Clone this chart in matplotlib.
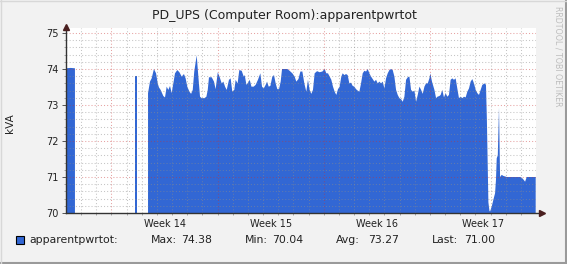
import numpy as np
import matplotlib
matplotlib.use("Agg")
import matplotlib.pyplot as plt
from matplotlib.patches import Rectangle
from matplotlib.lines import Line2D

# ---- data (time in days from left edge of graph, value in kVA) ----
nan = np.nan
days = [0.00, 0.30, 0.59, 0.60, 4.54, 4.55, 4.66, 4.67, 5.40,
        5.41, 5.54, 5.65, 5.80, 5.94, 6.05, 6.13, 6.24, 6.42, 6.53, 6.64, 6.75, 6.86, 6.97,
        7.08, 7.19, 7.34, 7.48, 7.63, 7.78, 7.89, 8.00, 8.14, 8.25, 8.36, 8.46, 8.62, 8.73,
        8.84, 8.95, 9.13, 9.26, 9.35, 9.43, 9.61, 9.76, 9.87, 10.01, 10.14, 10.27, 10.38,
        10.49, 10.60, 10.75, 10.86, 10.97, 11.10, 11.19, 11.32, 11.43, 11.59, 11.72,
        11.79, 11.90, 12.01, 12.12, 12.23, 12.38, 12.51, 12.66, 12.82, 12.93, 13.04, 13.17,
        13.26, 13.37, 13.48, 13.61, 13.72, 13.83, 13.94, 14.05, 14.16, 14.25, 14.42, 14.60,
        14.75, 14.93, 15.08, 15.19, 15.33, 15.46, 15.59, 15.72, 15.85, 15.96, 16.07, 16.18,
        16.29, 16.40, 16.56, 16.73, 16.91, 17.06, 17.17, 17.28, 17.39, 17.50, 17.61, 17.72,
        17.83, 17.94, 18.05, 18.16,
        18.25, 18.36, 18.47, 18.58, 18.69, 18.80, 18.91, 19.02, 19.13, 19.24, 19.35, 19.46,
        19.57, 19.68, 19.79, 19.90, 20.01, 20.12, 20.23, 20.34, 20.45, 20.56, 20.67, 20.78,
        20.89, 21.00, 21.11, 21.22, 21.33, 21.44, 21.55, 21.66, 21.77, 21.88, 21.99, 22.10,
        22.21, 22.32, 22.43, 22.54, 22.65, 22.76, 22.87, 22.98, 23.09, 23.20, 23.31, 23.42,
        23.53, 23.64, 23.75, 23.86, 23.97, 24.03, 24.14, 24.30, 24.41, 24.50, 24.63,
        24.71, 24.82, 24.93, 25.04, 25.15, 25.26, 25.37, 25.48, 25.59, 25.70, 25.81, 25.92,
        26.03, 26.14, 26.25, 26.36, 26.47, 26.58, 26.69, 26.80, 26.91, 27.02, 27.13, 27.24,
        27.35, 27.46, 27.62, 27.70,
        27.76, 27.86, 27.93, 27.97, 28.08, 28.19, 28.30, 28.36, 28.41, 28.48, 28.56, 28.63,
        28.74, 28.85, 29.07, 29.51, 29.95, 30.06, 30.17, 30.28, 30.39, 30.72, 30.98]
kva = [74.02, 74.03, 74.02, nan, nan, 73.80, 73.80, nan, nan,
       73.33, 73.65, 73.74, 74.00, 73.88, 73.60, 73.49, 73.42, 73.25, 73.21, 73.51, 73.42, 73.53, 73.33,
       73.60, 73.88, 73.97, 73.91, 73.79, 73.86, 73.74, 73.51, 73.37, 73.31, 73.42, 73.93, 74.38, 73.79,
       73.23, 73.19, 73.19, 73.23, 73.42, 73.77, 73.77, 73.65, 73.44, 73.91, 73.77, 73.60, 73.65,
       73.51, 73.42, 73.70, 73.74, 73.37, 73.42, 73.70, 73.60, 73.97, 73.95, 73.79,
       73.83, 73.56, 73.62, 73.70, 73.51, 73.51, 73.56, 73.70, 73.88, 73.51, 73.46, 73.56,
       73.65, 73.51, 73.53, 73.79, 73.83, 73.60, 73.44, 73.44, 73.65, 74.00, 74.00, 74.00,
       73.95, 73.88, 73.79, 73.65, 73.72, 73.93, 73.93, 73.60, 73.37, 73.70, 73.42, 73.31,
       73.42, 73.88, 73.94, 73.91, 73.93, 74.00, 73.88, 73.88, 73.79, 73.70, 73.51, 73.37,
       73.28, 73.44, 73.51, 73.79,
       73.88, 73.83, 73.86, 73.83, 73.60, 73.62, 73.53, 73.51, 73.44, 73.40, 73.37, 73.60,
       73.88, 73.95, 73.93, 74.00, 73.88, 73.79, 73.72, 73.65, 73.70, 73.60, 73.65, 73.60,
       73.65, 73.46, 73.74, 73.88, 73.97, 74.00, 73.97, 73.79, 73.42, 73.28, 73.19, 73.16,
       73.09, 73.23, 73.70, 73.77, 73.79, 73.42, 73.37, 73.40, 73.09, 73.28, 73.51, 73.42,
       73.31, 73.51, 73.60, 73.60, 73.74, 73.88, 73.65, 73.42, 73.19, 73.23, 73.25,
       73.28, 73.42, 73.21, 73.33, 73.23, 73.28, 73.70, 73.74, 73.70, 73.74, 73.46, 73.19,
       73.23, 73.19, 73.23, 73.21, 73.37, 73.46, 73.65, 73.72, 73.60, 73.42, 73.33, 73.28,
       73.42, 73.56, 73.60, 73.56,
       72.60, 70.30, 70.06, 70.04, 70.18, 70.37, 70.55, 70.92, 71.52, 71.60, 72.93, 71.00,
       71.06, 71.03, 71.00, 71.00, 71.00, 70.98, 70.93, 70.87, 71.00, 71.00, 71.00]

week_pos = [6.5, 13.5, 20.5, 27.5]
week_labels = ["Week 14", "Week 15", "Week 16", "Week 17"]
y_ticks = [70, 71, 72, 73, 74, 75]
legend_stats = [("Max:", "74.38"), ("Min:", "70.04"), ("Avg:", "73.27"), ("Last:", "71.00")]

W, H = 567, 264
BG = "#f2f2f2"
BLUE = "#3267d4"

fig = plt.figure(figsize=(W / 100, H / 100), dpi=100, facecolor=BG)

def fx(x):
    return x / W

def fy(y):
    return 1 - y / H

L, R, T, B = 66, 536, 28, 213
ax = fig.add_axes([fx(L), fy(B), (R - L) / W, (B - T) / H])
ax.set_facecolor("white")
ax.set_xlim(0, 31)
ax.set_ylim(70, 75 + 5 / 36)

ax.fill_between(days, kva, 70, color=BLUE, lw=0, zorder=1)

# grid
dots = (0, (1, 2))
for d in range(1, 31):
    if d % 7 == 3:
        continue
    ax.axvline(d, color="#8c8c8c", alpha=0.5, lw=0.75, ls=dots, zorder=2)
for yv in np.arange(70.2, 75.01, 0.2):
    if abs(yv - round(yv)) < 1e-6:
        continue
    ax.axhline(yv, color="#8c8c8c", alpha=0.5, lw=0.75, ls=dots, zorder=2)
for d in [3, 10, 17, 24]:
    ax.axvline(d, color="#c83232", alpha=0.45, lw=0.75, ls=dots, zorder=2)
for yv in [71, 72, 73, 74, 75]:
    ax.axhline(yv, color="#c83232", alpha=0.45, lw=0.75, ls=dots, zorder=2)

for s in ax.spines.values():
    s.set_visible(False)

ax.set_yticks(y_ticks)
ax.set_yticklabels([str(v) for v in y_ticks], fontsize=7, color="#222222")
ax.set_yticks(np.arange(70, 75.01, 0.2), minor=True)
ax.tick_params(axis="y", which="major", length=3, width=0.7, color="#555555", pad=2)
ax.tick_params(axis="y", which="minor", length=1.5, width=0.6, color="#999999")
ax.set_xticks(week_pos)
ax.set_xticklabels(week_labels, fontsize=7, color="#222222")
ax.set_xticks(range(1, 31), minor=True)
ax.tick_params(axis="x", which="major", length=0, pad=4)
ax.tick_params(axis="x", which="minor", length=1.5, width=0.6, color="#999999")

# axis lines with arrows
ax.add_line(Line2D([0, 1.012], [0, 0], transform=ax.transAxes, color="#333333",
                   lw=1, clip_on=False, zorder=5))
ax.add_line(Line2D([0, 0], [0, 1.01], transform=ax.transAxes, color="#333333",
                   lw=1, clip_on=False, zorder=5))
ax.plot([1.012], [0], marker=">", ms=4, color="#4a1f1f", transform=ax.transAxes,
        clip_on=False, zorder=6)
ax.plot([0], [1.008], marker="^", ms=4, color="#4a1f1f", transform=ax.transAxes,
        clip_on=False, zorder=6)

# texts
fig.text(fx(284), fy(15), "PD_UPS (Computer Room):apparentpwrtot", ha="center",
         va="center", fontsize=9, color="#222222")
fig.text(fx(10), fy(123), "kVA", ha="center", va="center", rotation=90,
         fontsize=7.5, color="#222222")
fig.text(fx(558), fy(56), "RRDTOOL / TOBI OETIKER", ha="center", va="center",
         rotation=-90, fontsize=5.7, color="#bdbdbd")

# legend
fig.patches.append(Rectangle((fx(16), fy(244)), 8 / W, 8 / H, transform=fig.transFigure,
                             facecolor=BLUE, edgecolor="black", lw=0.8))
fig.text(fx(29), fy(240), "apparentpwrtot:", ha="left", va="center", fontsize=7.8,
         color="#222222")
lab_x = [151, 245, 336, 432]
val_x = [181, 272, 368, 464]
for (lab, val), lx, vx in zip(legend_stats, lab_x, val_x):
    fig.text(fx(lx), fy(240), lab, ha="left", va="center", fontsize=7.8, color="#222222")
    fig.text(fx(vx), fy(240), val, ha="left", va="center", fontsize=7.8, color="#222222")

# frame shading
fig.add_artist(Line2D([0, 1], [fy(263), fy(263)], transform=fig.transFigure,
                      color="#9a9a9a", lw=1.5))
fig.add_artist(Line2D([fx(566), fx(566)], [0, 1], transform=fig.transFigure,
                      color="#9a9a9a", lw=1.5))
fig.add_artist(Line2D([0, 1], [fy(0.5), fy(0.5)], transform=fig.transFigure,
                      color="#d8d8d8", lw=1))
fig.add_artist(Line2D([fx(0.5), fx(0.5)], [0, 1], transform=fig.transFigure,
                      color="#d8d8d8", lw=1))

fig.savefig("out.png", dpi=100, facecolor=BG)
